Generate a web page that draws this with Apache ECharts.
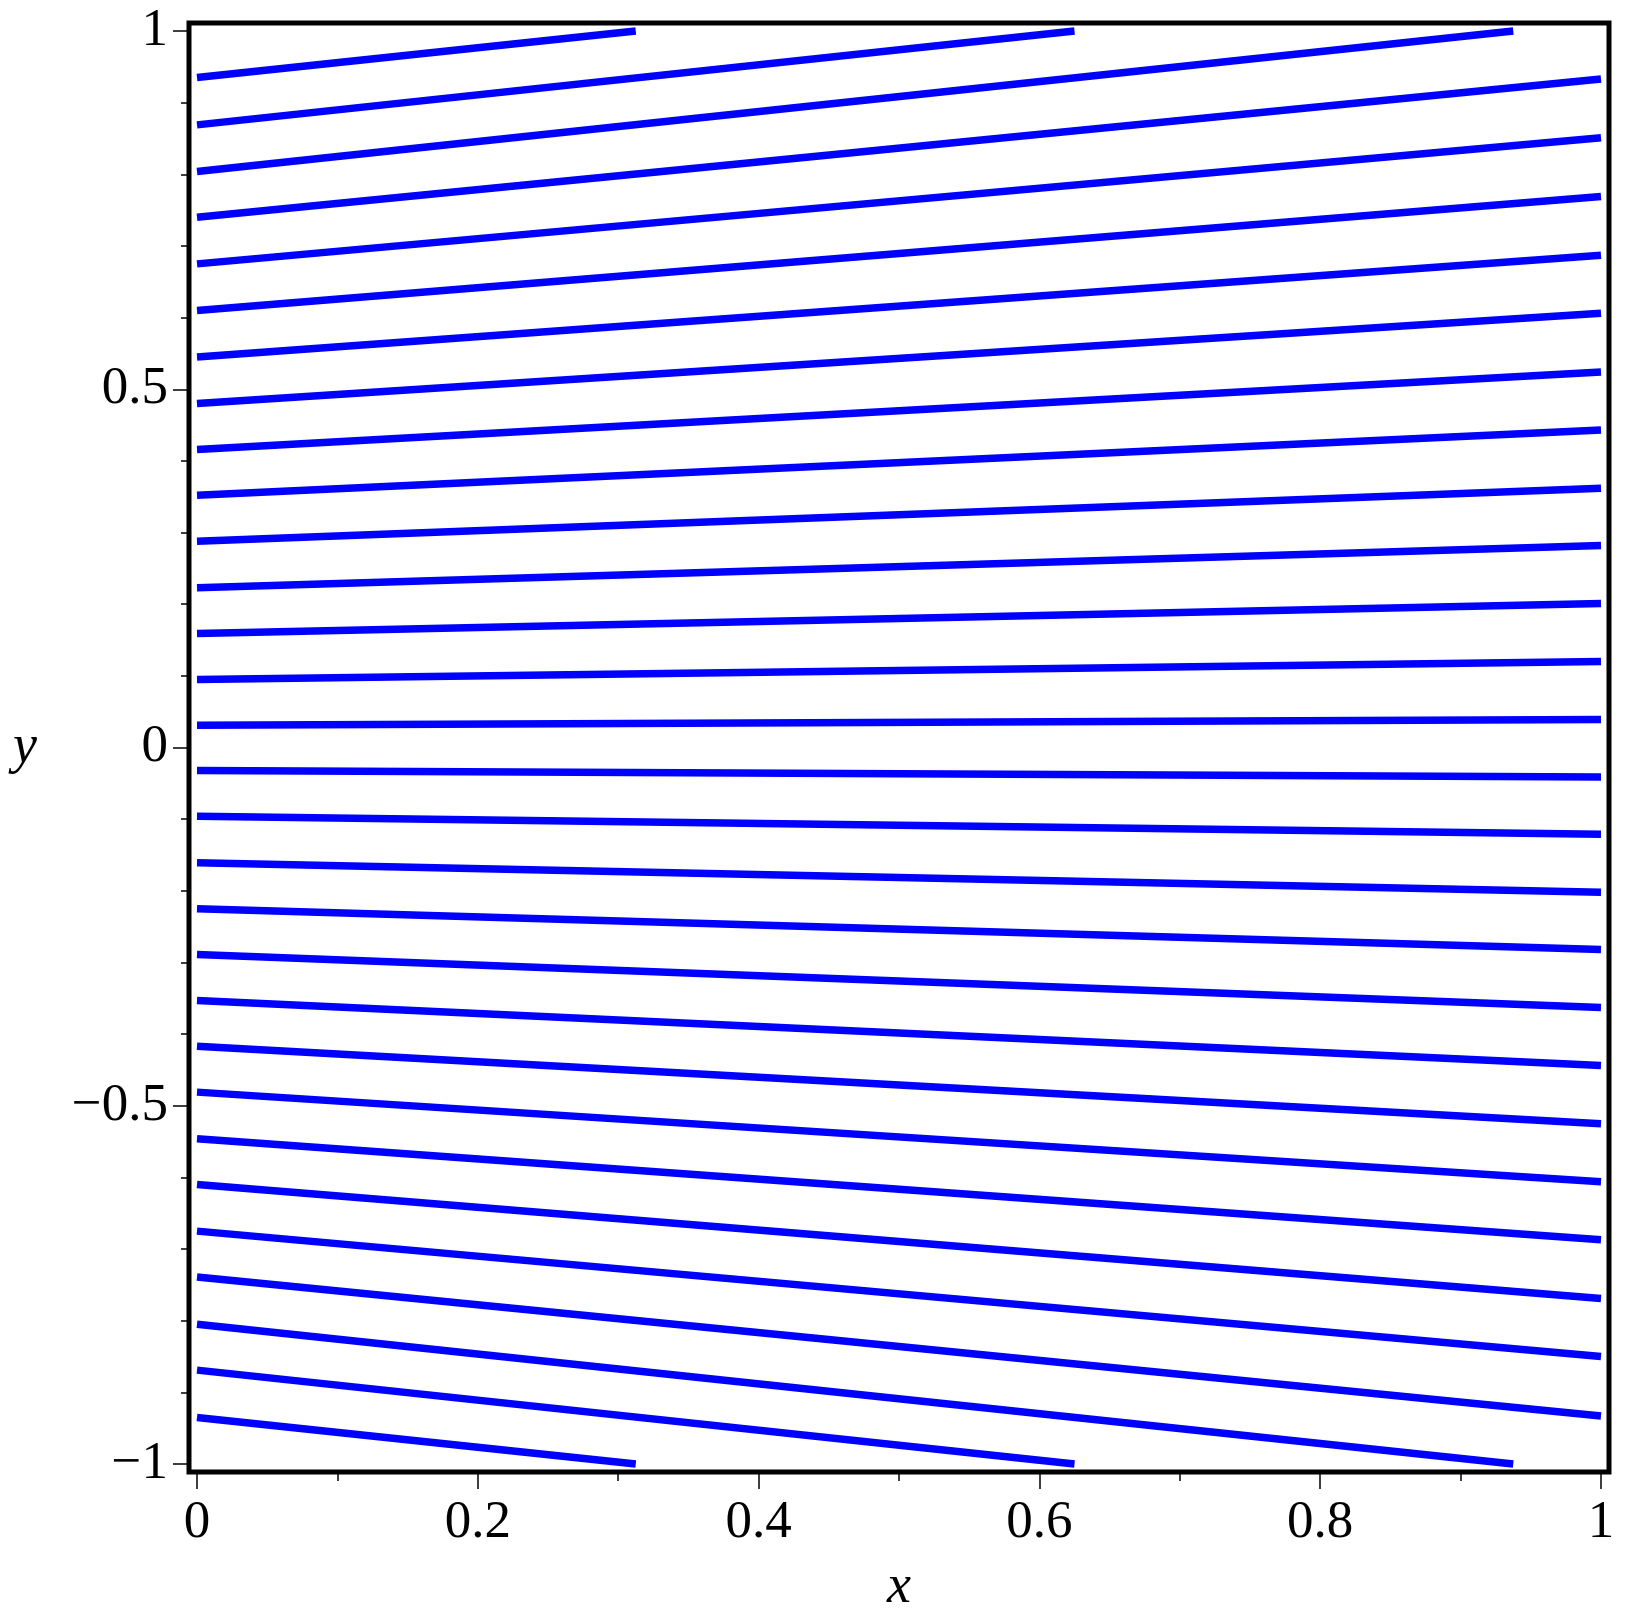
<!DOCTYPE html>
<html>
<head>
<meta charset="utf-8">
<script src="https://cdn.jsdelivr.net/npm/echarts@6/dist/echarts.min.js"></script>
<style>
  html, body { margin: 0; padding: 0; background: #fff; }
  #chart { width: 1626px; height: 1621px; }
</style>
</head>
<body>
<div id="chart"></div>
<script>
// upper family: start at x = 0, end at (endX, endY)
const upperStartY = [0.935, 0.869, 0.804, 0.740, 0.675, 0.610, 0.545, 0.480, 0.416, 0.352, 0.288, 0.223, 0.159, 0.095, 0.031]
const upperEndX   = [0.3125, 0.625, 0.9375, 1, 1, 1, 1, 1, 1, 1, 1, 1, 1, 1, 1]
const upperEndY   = [1, 1, 1, 0.933, 0.851, 0.769, 0.687, 0.606, 0.524, 0.443, 0.362, 0.282, 0.201, 0.120, 0.039]

// lower family
const lowerStartY = [-0.032, -0.096, -0.161, -0.225, -0.289, -0.353, -0.417, -0.481, -0.546, -0.610, -0.675, -0.739, -0.805, -0.869, -0.935]
const lowerEndX   = [1, 1, 1, 1, 1, 1, 1, 1, 1, 1, 1, 1, 0.9375, 0.625, 0.3125]
const lowerEndY   = [-0.041, -0.121, -0.202, -0.282, -0.363, -0.444, -0.525, -0.606, -0.687, -0.769, -0.850, -0.933, -1, -1, -1]

const xMajorTicks = [0, 0.2, 0.4, 0.6, 0.8, 1]
const xMinorTicks = [0.1, 0.3, 0.5, 0.7, 0.9]
const yMajorTicks = [-1, -0.5, 0, 0.5, 1]
const yMinorTicks = [-0.9, -0.8, -0.7, -0.6, -0.4, -0.3, -0.2, -0.1, 0.1, 0.2, 0.3, 0.4, 0.6, 0.7, 0.8, 0.9]

const chart = echarts.init(document.getElementById('chart'))

const font = 'Liberation Serif'
const xPad = 0.0057
const yPad = 0.0112

function makeSeries(startY, endX, endY) {
  return startY.map((y0, i) => ({
    type: 'line',
    data: [[0, y0], [endX[i], endY[i]]],
    showSymbol: false,
    silent: true,
    lineStyle: { color: '#0000ff', width: 7.5 },
    z: 1
  }))
}

const series = makeSeries(upperStartY, upperEndX, upperEndY)
  .concat(makeSeries(lowerStartY, lowerEndX, lowerEndY))

const labelStyle = {
  fontFamily: font,
  fontSize: 53,
  color: '#000'
}

// Maple-style minus sign
const fmt = v => (v < 0 ? '\u2212' + String(-v) : String(v))

const option = {
  animation: false,
  backgroundColor: '#fff',
  grid: {
    left: 189,
    right: 17,
    top: 23,
    bottom: 149,
    show: true,
    borderColor: '#000',
    borderWidth: 5,
    backgroundColor: 'transparent',
    z: 5
  },
  xAxis: [
    {
      type: 'value',
      min: -xPad,
      max: 1 + xPad,
      name: 'x',
      nameLocation: 'middle',
      nameGap: 89,
      nameTextStyle: { fontFamily: font, fontSize: 54, fontStyle: 'italic', color: '#000' },
      axisLine: { show: false, onZero: false },
      splitLine: { show: false },
      axisTick: {
        show: true,
        length: 17,
        customValues: xMajorTicks,
        lineStyle: { color: '#000', width: 1.5 }
      },
      axisLabel: Object.assign({
        margin: 25,
        customValues: xMajorTicks,
        formatter: fmt
      }, labelStyle)
    },
    {
      type: 'value',
      position: 'bottom',
      min: -xPad,
      max: 1 + xPad,
      axisLine: { show: false, onZero: false },
      splitLine: { show: false },
      axisLabel: { show: false },
      axisTick: {
        show: true,
        length: 9,
        customValues: xMinorTicks,
        lineStyle: { color: '#000', width: 1.5 }
      }
    }
  ],
  yAxis: [
    {
      type: 'value',
      min: -1 - yPad,
      max: 1 + yPad,
      name: 'y',
      nameLocation: 'middle',
      nameRotate: 0,
      nameGap: 152,
      nameTextStyle: { fontFamily: font, fontSize: 54, fontStyle: 'italic', color: '#000' },
      axisLine: { show: false, onZero: false },
      splitLine: { show: false },
      axisTick: {
        show: true,
        length: 16,
        customValues: yMajorTicks,
        lineStyle: { color: '#000', width: 1.5 }
      },
      axisLabel: Object.assign({
        margin: 21,
        customValues: yMajorTicks,
        formatter: fmt
      }, labelStyle)
    },
    {
      type: 'value',
      position: 'left',
      min: -1 - yPad,
      max: 1 + yPad,
      axisLine: { show: false, onZero: false },
      splitLine: { show: false },
      axisLabel: { show: false },
      axisTick: {
        show: true,
        length: 8,
        customValues: yMinorTicks,
        lineStyle: { color: '#000', width: 1.5 }
      }
    }
  ],
  series: series
}

chart.setOption(option)
</script>
</body>
</html>
